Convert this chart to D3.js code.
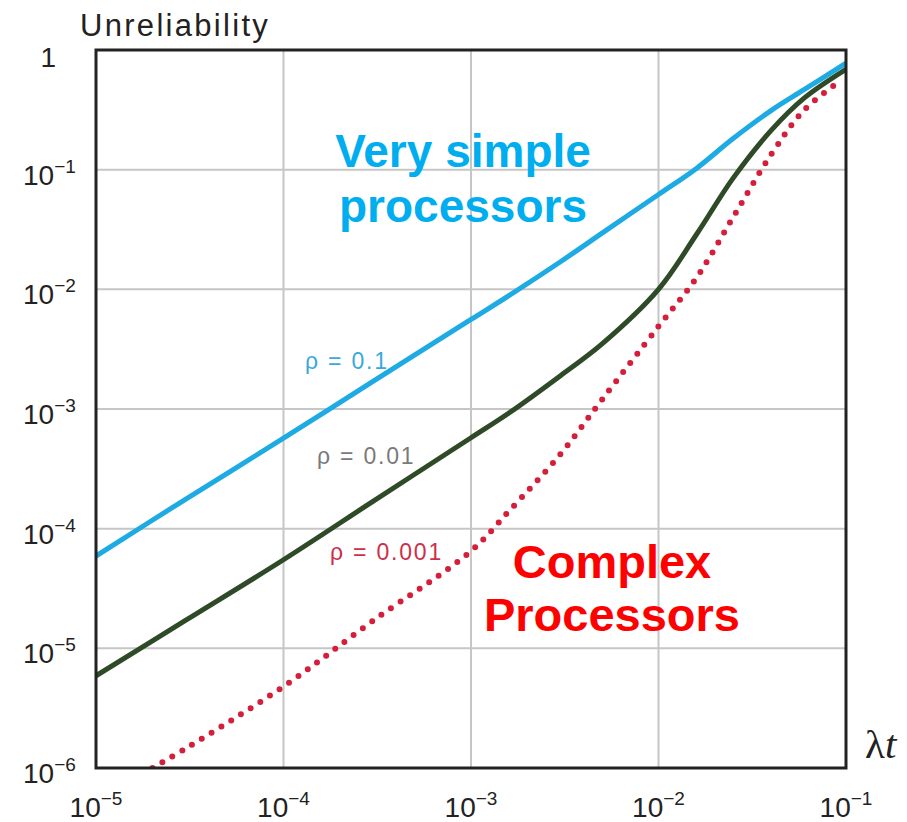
<!DOCTYPE html>
<html>
<head>
<meta charset="utf-8">
<script src="https://cdn.jsdelivr.net/npm/d3@7"></script>
<style>
  body { margin: 0; background: #fff; }
  text { font-family: "Liberation Sans", Arial, sans-serif; }
</style>
</head>
<body>
<div id="chart"></div>
<script>
// values (lambda*t on x, unreliability on y)
const lambdaT = [1e-5, 3e-5, 1e-4, 3e-4, 1e-3, 1.6e-3, 3e-3, 5e-3, 1e-2, 1.6e-2, 2.5e-2, 4e-2, 6e-2, 1e-1]
const rho01 = [5.9e-5, 1.76e-4, 5.7e-4, 1.7e-3, 5.6e-3, 8.9e-3, 1.7e-2, 2.95e-2, 6.2e-2, 0.103, 0.182, 0.313, 0.468, 0.776]
const rho001 = [5.9e-6, 1.71e-5, 5.5e-5, 1.69e-4, 5.75e-4, 9.3e-4, 1.9e-3, 3.5e-3, 1.0e-2, 2.9e-2, 8.5e-2, 0.214, 0.398, 0.69]

const lambdaTRed = [2e-5, 3e-5, 1e-4, 3e-4, 1e-3, 1.6e-3, 3e-3, 5e-3, 1e-2, 1.6e-2, 2.5e-2, 4e-2, 6e-2, 9.3e-2]
const rho0001 = [1e-6, 1.45e-6, 4.8e-6, 1.7e-5, 6.5e-5, 1.41e-4, 4.2e-4, 1.2e-3, 4.9e-3, 1.26e-2, 4.0e-2, 0.135, 0.316, 0.55]

const xTickExp = [-5, -4, -3, -2, -1]
const yTickExp = [0, -1, -2, -3, -4, -5, -6]

const WIDTH = 907
const HEIGHT = 822
const plotL = 96, plotR = 846, plotT = 50, plotB = 768

const svg = d3.select("#chart")
    .append("svg")
    .attr("width", WIDTH)
    .attr("height", HEIGHT)

const x = d3.scaleLog().domain([1e-5, 1e-1]).range([plotL, plotR])
const y = d3.scaleLog().domain([1e-6, 1]).range([plotB, plotT])

// grid
const grid = svg.append("g").attr("stroke", "#c6c6c6").attr("stroke-width", 2)
grid.selectAll("line.v")
    .data(xTickExp.slice(1, -1))
    .enter().append("line")
    .attr("x1", d => x(10 ** d)).attr("x2", d => x(10 ** d))
    .attr("y1", plotT).attr("y2", plotB)
grid.selectAll("line.h")
    .data(yTickExp.slice(1, -1))
    .enter().append("line")
    .attr("y1", d => y(10 ** d)).attr("y2", d => y(10 ** d))
    .attr("x1", plotL).attr("x2", plotR)

// curves
const clip = svg.append("clipPath").attr("id", "plotclip")
clip.append("rect").attr("x", plotL).attr("y", plotT).attr("width", plotR - plotL).attr("height", plotB - plotT)

const line = d3.line()
    .x(d => x(d[0]))
    .y(d => y(d[1]))
    .curve(d3.curveCatmullRom.alpha(0.5))

const curves = svg.append("g").attr("clip-path", "url(#plotclip)").attr("fill", "none")

curves.append("path")
    .attr("d", line(d3.zip(lambdaTRed, rho0001)))
    .attr("stroke", "#d41f3c")
    .attr("stroke-width", 6)
    .attr("stroke-linecap", "round")
    .attr("stroke-dasharray", "0 11.5")

curves.append("path")
    .attr("d", line(d3.zip(lambdaT, rho001)))
    .attr("stroke", "#2f4a27")
    .attr("stroke-width", 5)

curves.append("path")
    .attr("d", line(d3.zip(lambdaT, rho01)))
    .attr("stroke", "#1eaae2")
    .attr("stroke-width", 5)

// frame
svg.append("rect")
    .attr("x", plotL).attr("y", plotT)
    .attr("width", plotR - plotL).attr("height", plotB - plotT)
    .attr("fill", "none")
    .attr("stroke", "#222")
    .attr("stroke-width", 3)

// y tick labels
yTickExp.forEach(e => {
    const yy = y(10 ** e) + 15
    if (e === 0) {
        svg.append("text").attr("x", 56).attr("y", yy + 2)
            .attr("text-anchor", "end").attr("font-size", 28).attr("fill", "#222")
            .text("1")
    } else {
        const t = svg.append("text").attr("x", 23).attr("y", yy)
            .attr("font-size", 28).attr("fill", "#222")
        t.append("tspan").text("10")
        t.append("tspan").attr("font-size", 19).attr("dy", -12).text("\u2212" + (-e))
    }
})

// x tick labels
xTickExp.forEach(e => {
    const t = svg.append("text").attr("x", x(10 ** e)).attr("y", 817)
        .attr("text-anchor", "middle").attr("font-size", 28).attr("fill", "#222")
    t.append("tspan").text("10")
    t.append("tspan").attr("font-size", 19).attr("dy", -12).text("\u2212" + (-e))
})

// axis titles
svg.append("text").attr("x", 80).attr("y", 36)
    .attr("font-size", 31).attr("letter-spacing", 2.3).attr("fill", "#222")
    .text("Unreliability")

const lt = svg.append("text").attr("x", 865).attr("y", 758)
    .attr("font-size", 41).attr("fill", "#222")
    .style("font-family", "'Liberation Serif', 'DejaVu Serif', serif")
lt.append("tspan").text("\u03bb")
lt.append("tspan").attr("font-style", "italic").text("t")

// curve labels
svg.append("text").attr("x", 305).attr("y", 369)
    .attr("font-size", 23).attr("letter-spacing", 1.8).attr("fill", "#3aa8dc")
    .text("\u03c1 = 0.1")
svg.append("text").attr("x", 317).attr("y", 464)
    .attr("font-size", 23).attr("letter-spacing", 1.8).attr("fill", "#7a7a7a")
    .text("\u03c1 = 0.01")
svg.append("text").attr("x", 330).attr("y", 560)
    .attr("font-size", 23).attr("letter-spacing", 1.8).attr("fill", "#cc2f4a")
    .text("\u03c1 = 0.001")

// big annotations
const blue = svg.append("text").attr("text-anchor", "middle")
    .attr("font-size", 46).attr("font-weight", "bold").attr("fill", "#00aeef")
blue.append("tspan").attr("x", 463).attr("y", 167).text("Very simple")
blue.append("tspan").attr("x", 463).attr("y", 222).text("processors")

const red = svg.append("text").attr("text-anchor", "middle")
    .attr("font-size", 47).attr("font-weight", "bold").attr("fill", "#ff0000")
red.append("tspan").attr("x", 612).attr("y", 578).text("Complex")
red.append("tspan").attr("x", 612).attr("y", 631).text("Processors")
</script>
</body>
</html>
